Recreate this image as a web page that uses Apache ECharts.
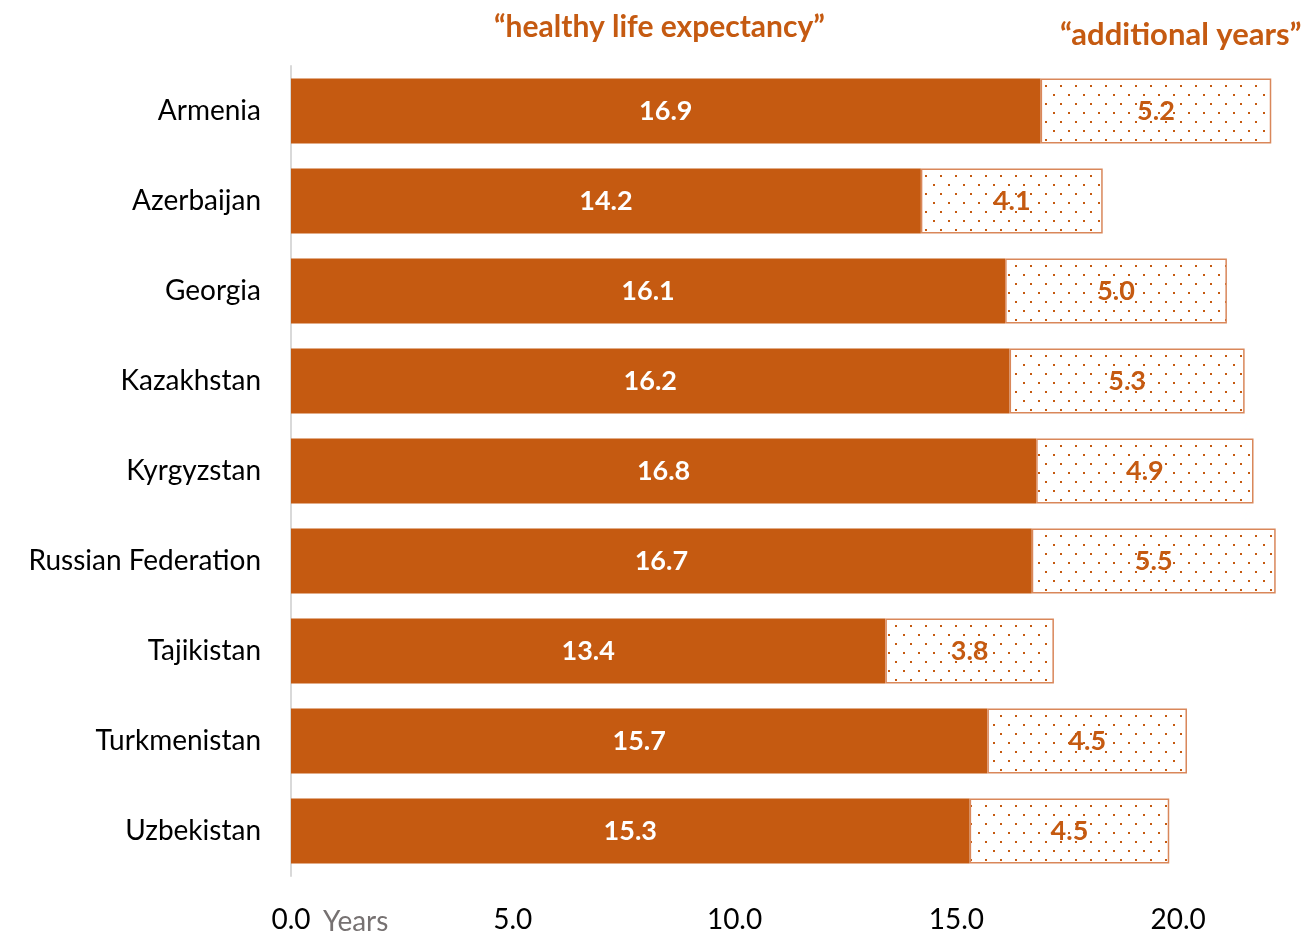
<!DOCTYPE html>
<html>
<head>
<meta charset="utf-8">
<script src="https://cdn.jsdelivr.net/npm/echarts@6/dist/echarts.min.js"></script>
<style>
  html, body { margin: 0; padding: 0; background: #fff; }
  #chart { width: 1302px; height: 934px; }
</style>
</head>
<body>
<div id="chart"></div>
<script>
const countries = ['Armenia', 'Azerbaijan', 'Georgia', 'Kazakhstan', 'Kyrgyzstan',
  'Russian Federation', 'Tajikistan', 'Turkmenistan', 'Uzbekistan'];
const healthyYears = [16.9, 14.2, 16.1, 16.2, 16.8, 16.7, 13.4, 15.7, 15.3];
const additionalYears = [5.2, 4.1, 5.0, 5.3, 4.9, 5.5, 3.8, 4.5, 4.5];
const xTicks = [0, 5, 10, 15, 20];

const ORANGE = '#C55A11';
const FONT = 'Lato, "Open Sans", sans-serif';

// dotted fill for the "additional years" segment
function dotPattern() {
  const c = document.createElement('canvas');
  c.width = 15;
  c.height = 18;
  const ctx = c.getContext('2d');
  ctx.fillStyle = '#fff';
  ctx.fillRect(0, 0, 15, 18);
  ctx.fillStyle = ORANGE;
  ctx.fillRect(3, 4, 2, 2);
  ctx.fillRect(10, 13, 2, 2);
  return c;
}

const chart = echarts.init(document.getElementById('chart'));

chart.setOption({
  animation: false,
  grid: { left: 291, right: 13, top: 66, bottom: 58 },
  graphic: [
    {
      type: 'text', left: 494, top: 12,
      style: { text: '\u201Chealthy life expectancy\u201D', fill: ORANGE, font: 'bold 30px ' + FONT }
    },
    {
      type: 'text', left: 1060, top: 19,
      style: { text: '\u201Cadditional years\u201D', fill: ORANGE, font: 'bold 31px ' + FONT }
    },
    {
      type: 'text', left: 323, top: 908,
      style: { text: 'Years', fill: '#767171', font: '28px ' + FONT }
    }
  ],
  xAxis: {
    type: 'value',
    min: 0,
    max: 22.5,
    interval: 5,
    splitLine: { show: false },
    axisLine: { show: false },
    axisTick: { show: false },
    axisLabel: {
      customValues: xTicks,
      margin: 30,
      color: '#000',
      fontSize: 28,
      fontFamily: FONT,
      formatter: v => v.toFixed(1)
    }
  },
  yAxis: {
    type: 'category',
    data: countries,
    inverse: true,
    axisLine: { show: true, lineStyle: { color: '#D9D9D9', width: 2 } },
    axisTick: { show: false },
    axisLabel: { color: '#000', fontSize: 28, fontFamily: FONT, margin: 30 }
  },
  series: [
    {
      name: 'healthy life expectancy',
      type: 'bar',
      stack: 'total',
      data: healthyYears,
      barWidth: 65,
      itemStyle: { color: ORANGE },
      label: {
        show: true,
        position: 'inside',
        color: '#fff',
        fontWeight: 'bold',
        fontSize: 27,
        fontFamily: FONT,
        formatter: p => p.value.toFixed(1)
      }
    },
    {
      name: 'additional years',
      type: 'bar',
      stack: 'total',
      data: additionalYears,
      barWidth: 65,
      itemStyle: {
        color: { image: dotPattern(), repeat: 'repeat' },
        borderColor: '#D9875A',
        borderWidth: 1.5
      },
      label: {
        show: true,
        position: 'inside',
        color: ORANGE,
        fontWeight: 'bold',
        fontSize: 27,
        fontFamily: FONT,
        formatter: p => p.value.toFixed(1)
      }
    }
  ]
});
</script>
</body>
</html>
